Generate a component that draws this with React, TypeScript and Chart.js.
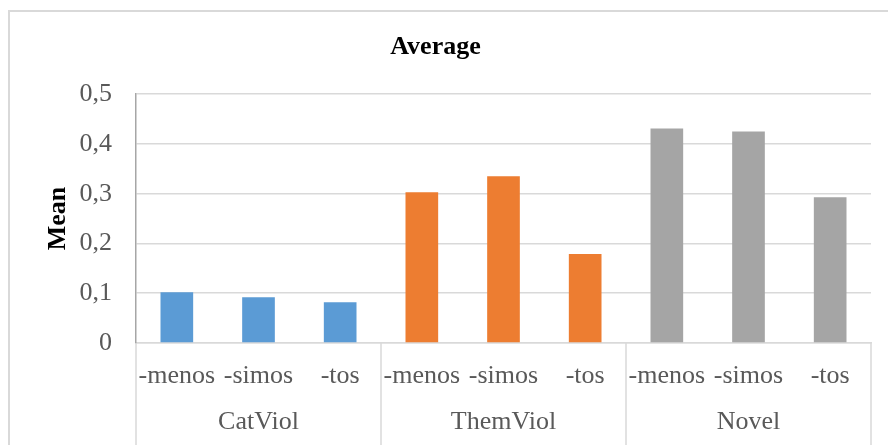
import React, { useEffect, useRef } from "react";
import { Chart, registerables } from "chart.js";

Chart.register(...registerables);

const subLabels = ["-menos", "-simos", "-tos", "-menos", "-simos", "-tos", "-menos", "-simos", "-tos"];
const groupLabels = ["CatViol", "ThemViol", "Novel"];
const meanValues = [0.102, 0.092, 0.082, 0.303, 0.335, 0.179, 0.431, 0.425, 0.293];
const barColors = ["#5B9BD5", "#5B9BD5", "#5B9BD5", "#ED7D31", "#ED7D31", "#ED7D31", "#A5A5A5", "#A5A5A5", "#A5A5A5"];
const yTicks = [0, 0.1, 0.2, 0.3, 0.4, 0.5];

const FONT = "'Liberation Serif', 'Times New Roman', serif";

const framePlugin = {
  id: "frame",
  beforeDraw(chart: any) {
    const { ctx, width, height } = chart;
    ctx.save();
    ctx.fillStyle = "#ffffff";
    ctx.fillRect(0, 0, width, height);
    ctx.strokeStyle = "#D9D9D9";
    ctx.lineWidth = 2;
    ctx.strokeRect(9, 11, width + 20, height + 20);
    ctx.restore();
  },
  afterDraw(chart: any) {
    const { ctx, chartArea, height } = chart;
    const xs = chart.scales.x;
    const n = subLabels.length;
    const bounds: number[] = [chartArea.left];
    for (let i = 3; i < n; i += 3) {
      bounds.push((xs.getPixelForValue(i - 1) + xs.getPixelForValue(i)) / 2);
    }
    bounds.push(chartArea.right);
    ctx.save();
    ctx.strokeStyle = "#D9D9D9";
    ctx.lineWidth = 1.5;
    bounds.forEach((bx) => {
      ctx.beginPath();
      ctx.moveTo(bx, chartArea.bottom);
      ctx.lineTo(bx, height);
      ctx.stroke();
    });
    ctx.restore();
  },
};

export default function App() {
  const ref = useRef<HTMLCanvasElement | null>(null);

  useEffect(() => {
    if (!ref.current) return;
    const chart = new Chart(ref.current, {
      type: "bar",
      data: {
        labels: subLabels,
        datasets: [
          {
            data: meanValues,
            backgroundColor: barColors,
            borderWidth: 0,
            barPercentage: 0.4,
            categoryPercentage: 1,
            xAxisID: "x",
          },
        ],
      },
      options: {
        animation: false,
        responsive: false,
        layout: { padding: { left: 0, right: 17, top: 0, bottom: 0 } },
        plugins: {
          legend: { display: false },
          tooltip: { enabled: false },
          title: {
            display: true,
            text: "Average",
            color: "#000000",
            font: { family: FONT, size: 26, weight: "bold" },
            padding: { top: 32, bottom: 31 },
          },
        },
        scales: {
          x: {
            type: "category",
            position: "bottom",
            weight: 0,
            grid: { display: false, drawTicks: false },
            border: { display: true, color: "#D9D9D9", width: 1.5 },
            ticks: {
              color: "#595959",
              font: { family: FONT, size: 26 },
              padding: 18,
              maxRotation: 0,
              autoSkip: false,
            },
            afterFit: (scale: any) => {
              scale.height = 57;
            },
          },
          x2: {
            type: "category",
            position: "bottom",
            weight: 1,
            labels: groupLabels,
            offset: true,
            grid: { display: false, drawTicks: false },
            border: { display: false },
            ticks: {
              color: "#595959",
              font: { family: FONT, size: 26 },
              padding: 7,
              maxRotation: 0,
              autoSkip: false,
            },
            afterFit: (scale: any) => {
              scale.height = 45;
            },
          },
          y: {
            min: 0,
            max: 0.5,
            afterBuildTicks: (scale: any) => {
              scale.ticks = yTicks.map((v) => ({ value: v }));
            },
            grid: { color: "#D9D9D9", lineWidth: 1.5, drawTicks: false },
            border: { display: true, color: "#A6A6A6", width: 1.5 },
            ticks: {
              color: "#595959",
              font: { family: FONT, size: 26 },
              padding: 24,
              callback: (v: any) => (Number(v) === 0 ? "0" : Number(v).toFixed(1).replace(".", ",")),
            },
            title: {
              display: true,
              text: "Mean",
              color: "#000000",
              font: { family: FONT, size: 26, weight: "bold" },
              padding: { top: 43, bottom: 0 },
            },
            afterFit: (scale: any) => {
              scale.width = 136;
            },
          },
        },
      },
      plugins: [framePlugin],
    });
    return () => chart.destroy();
  }, []);

  return (
    <div style={{ position: "fixed", left: 0, top: 0, width: 888, height: 445, background: "#fff" }}>
      <canvas ref={ref} width={888} height={445} style={{ display: "block" }} />
    </div>
  );
}
